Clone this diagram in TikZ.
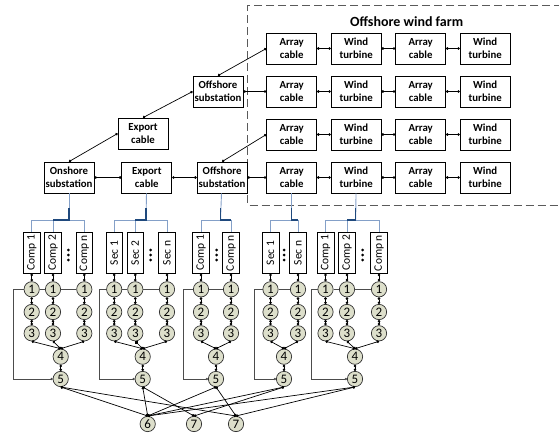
\documentclass[tikz,border=0pt]{standalone}
\usepackage{fontspec}
\setmainfont{Carlito}
\usetikzlibrary{positioning,arrows.meta}
\definecolor{busblue}{RGB}{132,160,200}
\definecolor{trunkblue}{RGB}{31,73,125}
\definecolor{partfill}{RGB}{221,223,203}
\definecolor{framegray}{RGB}{90,90,90}

\begin{document}
\begin{tikzpicture}[
    x=1pt, y=-1pt,
    blk/.style={rectangle, draw, line width=0.8pt, minimum width=50pt, minimum height=31pt, inner sep=0pt, align=center, font=\fontsize{10.8}{12.6}\selectfont\bfseries},
    partbox/.style={rectangle, draw, line width=0.7pt, minimum width=16.7pt, minimum height=40.6pt, inner sep=0pt, font=\fontsize{11.5}{12}\selectfont},
    num/.style={circle, draw=black!80, line width=0.7pt, fill=partfill, minimum size=15.3pt, inner sep=0pt, font=\fontsize{13}{13}\selectfont},
    ell/.style={minimum width=4pt, minimum height=14pt, inner sep=0pt, path picture={\foreach \dy in {-5,0,5} \fill ([yshift=\dy pt]path picture bounding box.center) circle (1.5pt);}},
    lnk/.style={{Circle[length=2.6pt]}-{Circle[length=2.6pt]}, line width=0.7pt},
    loopl/.style={-{Circle[length=2.2pt]}, draw=black!70, line width=0.9pt},
    tie/.style={draw=black!70, line width=0.9pt},
    busl/.style={draw=busblue, line width=0.9pt},
    busd/.style={draw=trunkblue, line width=1.4pt},
    farmframe/.style={draw=framegray, dash pattern=on 8pt off 4pt, line width=1pt}
]
    \useasboundingbox (0,0) rectangle (559,433);

    % wind farm frame
    \draw[farmframe] (562,6) -| (247.3,205) -- (562,205);
    \node[font=\fontsize{14}{16}\selectfont\bfseries] (farm) at (406.7,21.7) {Offshore wind farm};

    % array cables and turbines
    \foreach \r/\y in {1/48.5, 2/91.5, 3/134.5, 4/177.5} {
        \node[blk] (ac\r1) at (291.7,\y) {Array\\cable};
        \node[blk, right=13.7pt of ac\r1] (wt\r1) {Wind\\turbine};
        \node[blk, right=13.7pt of wt\r1] (ac\r2) {Array\\cable};
        \node[blk, right=13.7pt of ac\r2] (wt\r2) {Wind\\turbine};
        \draw[lnk] (ac\r1) -- (wt\r1);
        \draw[lnk] (wt\r1) -- (ac\r2);
        \draw[lnk] (ac\r2) -- (wt\r2);
    }

    % transmission
    \node[blk] (ons) at (69,177.5) {Onshore\\substation};
    \node[blk, right=27pt of ons] (exb) {Export\\cable};
    \node[blk, right=24.5pt of exb] (offb) {Offshore\\substation};
    \node[blk] (ext) at (143,133.5) {Export\\cable};
    \node[blk] (offt) at (218,91.5) {Offshore\\substation};

    \draw[lnk] (ons.east) -- (exb.west);
    \draw[lnk] (exb.east) -- (offb.west);
    \draw[lnk] (offb.east) -- (ac41.west);
    \draw[lnk] (offb.north) -- (ac31.west);
    \draw[lnk] (ons.north) -- (ext.west);
    \draw[lnk] (ext.north) -- (offt.west);
    \draw[lnk] (offt.east) -- (ac21.west);
    \draw[lnk] (offt.north) -- (ac11.west);

    % group a: onshore substation
    \coordinate (ba) at (69,220);
    \draw[busl] (ons) -- (ba);
    \foreach \i/\x/\lab in {1/31.7/Comp 1, 2/53/Comp 2, 3/84.3/Comp n} {
        \node[partbox] (pa\i) at (\x,253) {\rotatebox{90}{\lab}};
        \draw[busl] (ba) -| (pa\i.north);
        \node[num] (a1\i) at (\x,289.3) {1};
        \node[num] (a2\i) at (\x,312) {2};
        \node[num] (a3\i) at (\x,333.3) {3};
        \draw[lnk] (pa\i) -- (a1\i);
        \draw[lnk] (a1\i) -- (a2\i);
        \draw[lnk] (a2\i) -- (a3\i);
    }
    \draw[busd] ([yshift=12pt]ba) -- (ba) -- (ba -| pa2);
    \node[ell] (ea) at (68.3,255) {};
    \node[num] (a4) at (60.7,356.7) {4};
    \node[num] (a5) at (60.7,379) {5};

    % group b: export cable
    \coordinate (bb) at (146,220);
    \draw[busl] (exb) -- (bb);
    \foreach \i/\x/\lab in {1/114.2/Sec 1, 2/135.3/Sec 2, 3/167/Sec n} {
        \node[partbox] (pb\i) at (\x,253) {\rotatebox{90}{\lab}};
        \draw[busl] (bb) -| (pb\i.north);
        \node[num] (b1\i) at (\x,289.3) {1};
        \node[num] (b2\i) at (\x,312) {2};
        \node[num] (b3\i) at (\x,333.3) {3};
        \draw[lnk] (pb\i) -- (b1\i);
        \draw[lnk] (b1\i) -- (b2\i);
        \draw[lnk] (b2\i) -- (b3\i);
    }
    \draw[busd] ([yshift=12pt]bb) -- (bb) -- (bb -| pb2);
    \node[ell] (eb) at (150.7,255) {};
    \node[num] (b4) at (142.7,356.7) {4};
    \node[num] (b5) at (142.7,379) {5};

    % group c: offshore substation
    \coordinate (bc) at (220.5,220);
    \draw[busl] (offb) -- (bc);
    \foreach \i/\x/\lab in {1/201/Comp 1, 3/231/Comp n} {
        \node[partbox] (pc\i) at (\x,253) {\rotatebox{90}{\lab}};
        \draw[busl] (bc) -| (pc\i.north);
        \node[num] (c1\i) at (\x,289.3) {1};
        \node[num] (c2\i) at (\x,312) {2};
        \node[num] (c3\i) at (\x,333.3) {3};
        \draw[lnk] (pc\i) -- (c1\i);
        \draw[lnk] (c1\i) -- (c2\i);
        \draw[lnk] (c2\i) -- (c3\i);
    }
    \draw[busd] ([yshift=12pt]bc) -- (bc) -- (bc -| pc3);
    \node[ell] (ec) at (216.7,255) {};
    \node[num] (c4) at (216,356.7) {4};
    \node[num] (c5) at (216,379) {5};

    % group d: array cable
    \coordinate (bd) at (291.7,220);
    \draw[busl] (ac41) -- (bd);
    \foreach \i/\x/\lab in {1/270.5/Sec 1, 3/298/Sec n} {
        \node[partbox] (pd\i) at (\x,253) {\rotatebox{90}{\lab}};
        \draw[busl] (bd) -| (pd\i.north);
        \node[num] (d1\i) at (\x,289.3) {1};
        \node[num] (d2\i) at (\x,312) {2};
        \node[num] (d3\i) at (\x,333.3) {3};
        \draw[lnk] (pd\i) -- (d1\i);
        \draw[lnk] (d1\i) -- (d2\i);
        \draw[lnk] (d2\i) -- (d3\i);
    }
    \draw[busd] ([yshift=12pt]bd) -- (bd) -- (bd -| pd3);
    \node[ell] (ed) at (284,255) {};
    \node[num] (d4) at (284,356.7) {4};
    \node[num] (d5) at (284,379) {5};

    % group e: wind turbine
    \coordinate (be) at (355.7,220);
    \draw[busl] (wt41) -- (be);
    \foreach \i/\x/\lab in {1/325.5/Comp 1, 2/347/Comp 2, 3/379/Comp n} {
        \node[partbox] (pe\i) at (\x,253) {\rotatebox{90}{\lab}};
        \draw[busl] (be) -| (pe\i.north);
        \node[num] (e1\i) at (\x,289.3) {1};
        \node[num] (e2\i) at (\x,312) {2};
        \node[num] (e3\i) at (\x,333.3) {3};
        \draw[lnk] (pe\i) -- (e1\i);
        \draw[lnk] (e1\i) -- (e2\i);
        \draw[lnk] (e2\i) -- (e3\i);
    }
    \draw[busd] ([yshift=12pt]be) -- (be) -- (be -| pe2);
    \node[ell] (ee) at (362.7,255) {};
    \node[num] (e4) at (355,356.7) {4};
    \node[num] (e5) at (355,379) {5};

    % series ties, loops and merges
    \draw[tie] (a11) -- (a12) -- (a13);
    \draw[tie] (b11) -- (b12) -- (b13);
    \draw[tie] (c11) -- (c13);
    \draw[tie] (d11) -- (d13);
    \draw[tie] (e11) -- (e12) -- (e13);
    \draw[loopl] (a11.west) -- ++(-10,0) |- (a5.west);
    \draw[loopl] (b11.west) -- ++(-6.5,0) |- (b5.west);
    \draw[loopl] (c11.west) -- ++(-9.3,0) |- (c5.west);
    \draw[loopl] (d11.west) -- ++(-8.5,0) |- (d5.west);
    \draw[loopl] (e11.west) -- ++(-5.8,0) |- (e5.west);
    \foreach \g/\i in {a/1, a/2, a/3, b/1, b/2, b/3, c/1, c/3, d/1, d/3, e/1, e/2, e/3}
        \draw[lnk] (\g3\i.south) -- (\g4.north);
    \foreach \g in {a, b, c, d, e}
        \draw[lnk] (\g4) -- (\g5);

    % shared items
    \node[num] (k6) at (147.7,424) {6};
    \node[num] (k7a) at (194,424) {7};
    \node[num] (k7b) at (236,424) {7};
    \foreach \g in {a, b, c, d, e}
        \draw[lnk] (\g5.south) -- (k6.north);
    \foreach \g in {b, d}
        \draw[lnk] (\g5.south) -- (k7a.north);
    \foreach \g in {a, c, e}
        \draw[lnk] (\g5.south) -- (k7b.north);
\end{tikzpicture}
\end{document}
